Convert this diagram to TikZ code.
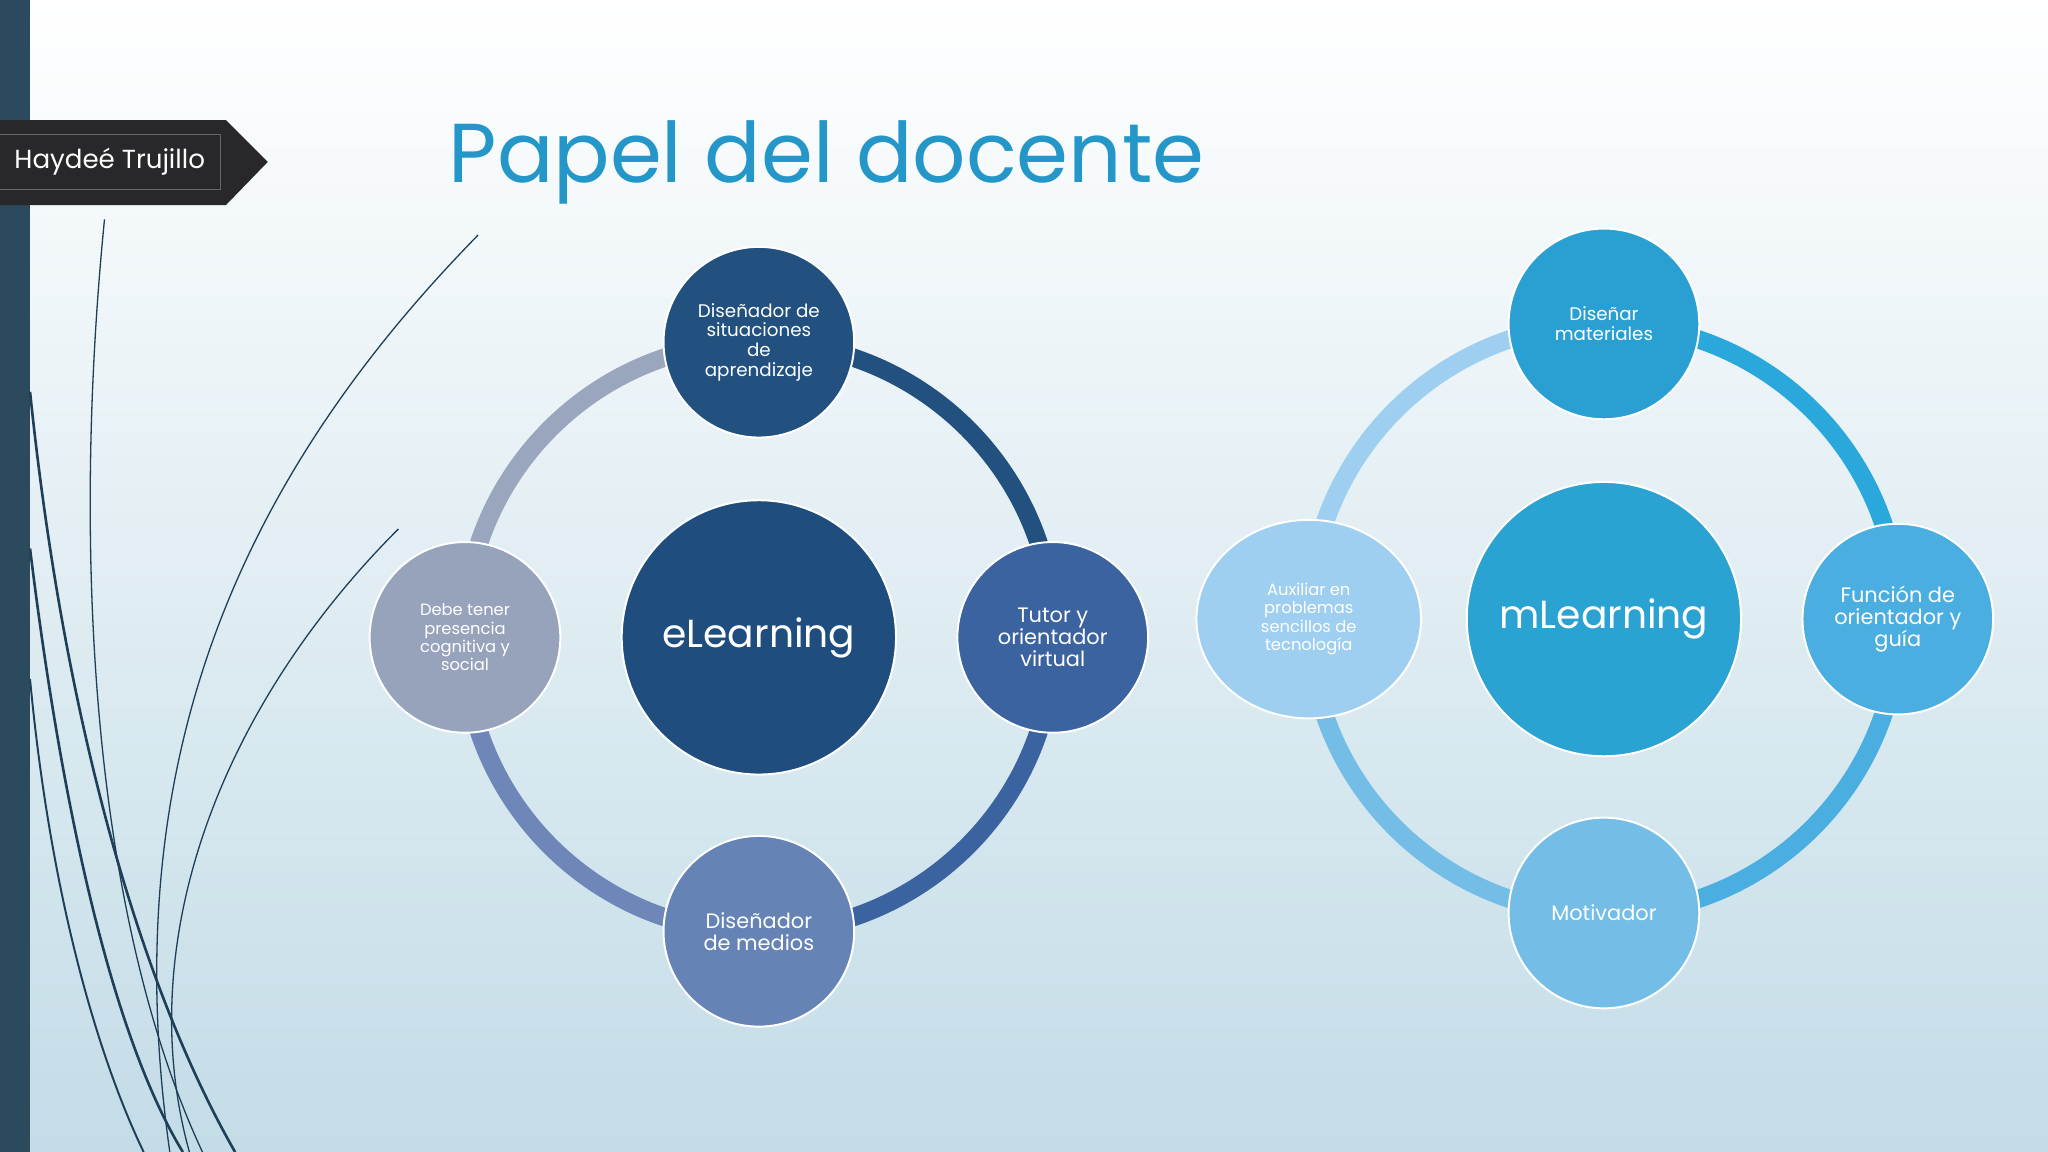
\documentclass[tikz,border=0pt]{standalone}
\usepackage{fontspec}
\setmainfont{Poppins}
\usetikzlibrary{shapes.geometric}
\definecolor{bgtop}{HTML}{FFFFFF}
\definecolor{bgbot}{HTML}{C3DCE7}
\definecolor{bar}{HTML}{2C4A5E}
\definecolor{tagc}{HTML}{28282A}
\definecolor{titc}{HTML}{2496C8}
\definecolor{curvec}{HTML}{1F3F58}
\definecolor{la}{HTML}{22507F}
\definecolor{lb}{HTML}{3A63A0}
\definecolor{lc}{HTML}{6583B4}
\definecolor{lcr}{HTML}{6E87B8}
\definecolor{ld}{HTML}{97A3BB}
\definecolor{ldr}{HTML}{9AA6BD}
\definecolor{lhub}{HTML}{1F4E7E}
\definecolor{ra}{HTML}{2AA0D2}
\definecolor{rar}{HTML}{2AA8DC}
\definecolor{rb}{HTML}{4AAEE0}
\definecolor{rc}{HTML}{73BDE6}
\definecolor{rd}{HTML}{9FCFF0}
\definecolor{rhub}{HTML}{2AA3D2}
\begin{document}
\begin{tikzpicture}[x=1pt,y=-1pt,
  ring/.style={line width=14pt},
  bub/.style={circle,draw=white,line width=1.5pt,minimum size=146pt,inner sep=0pt,text=white,align=center,font=\fontsize{14}{15}\selectfont},
  hub/.style={circle,draw=white,line width=1.5pt,minimum size=210pt,inner sep=0pt,text=white,font=\fontsize{30}{32}\selectfont},
  curve/.style={draw=curvec,line width=1.3pt}]
\shade[top color=bgtop,bottom color=bgbot] (0,0) rectangle (1568,882);
\useasboundingbox (0,0) rectangle (1568,882);
\fill[bar] (0,0) rectangle (23,882);
% curves
\draw[curve,line width=1pt] (80,168) .. controls (55,420) and (70,700) .. (155,882);
\draw[curve,line width=1pt] (366,180) .. controls (170,380) and (90,600) .. (130,882);
\draw[curve,line width=1pt] (305,405) .. controls (170,540) and (100,720) .. (145,882);
\draw[curve,line width=2pt] (23,300) .. controls (50,560) and (110,760) .. (180,882);
\draw[curve,line width=2pt] (23,420) .. controls (50,640) and (90,800) .. (140,882);
\draw[curve,line width=1.5pt] (23,520) .. controls (40,700) and (80,820) .. (110,882);
% tag
\fill[tagc] (0,92) -- (173,92) -- (205,124) -- (173,157) -- (0,157) -- cycle;
\node[draw=black!60,line width=1pt,minimum width=170pt,minimum height=42pt,text=white,font=\fontsize{20}{22}\selectfont] (tag) at (84,124) {Haydeé Trujillo};
\node[text=titc,font=\fontsize{64}{70}\selectfont,anchor=west] (title) at (340,124) {Papel del docente};
% left rings
\begin{scope}[shift={(581,488)}]
\draw[ring,la] (0:226) arc[start angle=0,end angle=-90,radius=226];
\draw[ring,lb] (0:226) arc[start angle=0,end angle=90,radius=226];
\draw[ring,lcr] (90:226) arc[start angle=90,end angle=180,radius=226];
\draw[ring,ldr] (180:226) arc[start angle=180,end angle=270,radius=226];
\end{scope}
\node[hub,fill=lhub] (el) at (581,488) {eLearning};
\node[bub,fill=la] (l1) at (581,262) {Diseñador de\\situaciones\\de\\aprendizaje};
\node[bub,fill=lb,font=\fontsize{16}{17}\selectfont] (l2) at (806,488) {Tutor y\\orientador\\virtual};
\node[bub,fill=lc,font=\fontsize{16}{17}\selectfont] (l3) at (581,713) {Diseñador\\de medios};
\node[bub,fill=ld,font=\fontsize{12.5}{14}\selectfont] (l4) at (356,488) {Debe tener\\presencia\\cognitiva y\\social};
% right rings
\begin{scope}[shift={(1228,474)}]
\draw[ring,rar] (0:226) arc[start angle=0,end angle=-90,radius=226];
\draw[ring,rb] (0:226) arc[start angle=0,end angle=90,radius=226];
\draw[ring,rc] (90:226) arc[start angle=90,end angle=180,radius=226];
\draw[ring,rd] (180:226) arc[start angle=180,end angle=270,radius=226];
\end{scope}
\node[hub,fill=rhub] (ml) at (1228,474) {mLearning};
\node[bub,fill=ra] (r1) at (1228,248) {Diseñar\\materiales};
\node[bub,fill=rb,font=\fontsize{16}{17}\selectfont] (r2) at (1453,474) {Función de\\orientador y\\guía};
\node[bub,fill=rc,font=\fontsize{16}{17}\selectfont] (r3) at (1228,699) {Motivador};
\node[ellipse,draw=white,line width=1.5pt,minimum width=172pt,minimum height=152pt,inner sep=0pt,align=center,text=white,font=\fontsize{12.5}{14}\selectfont,fill=rd] (r4) at (1002,474) {Auxiliar en\\problemas\\sencillos de\\tecnología};
\end{tikzpicture}
\end{document}
